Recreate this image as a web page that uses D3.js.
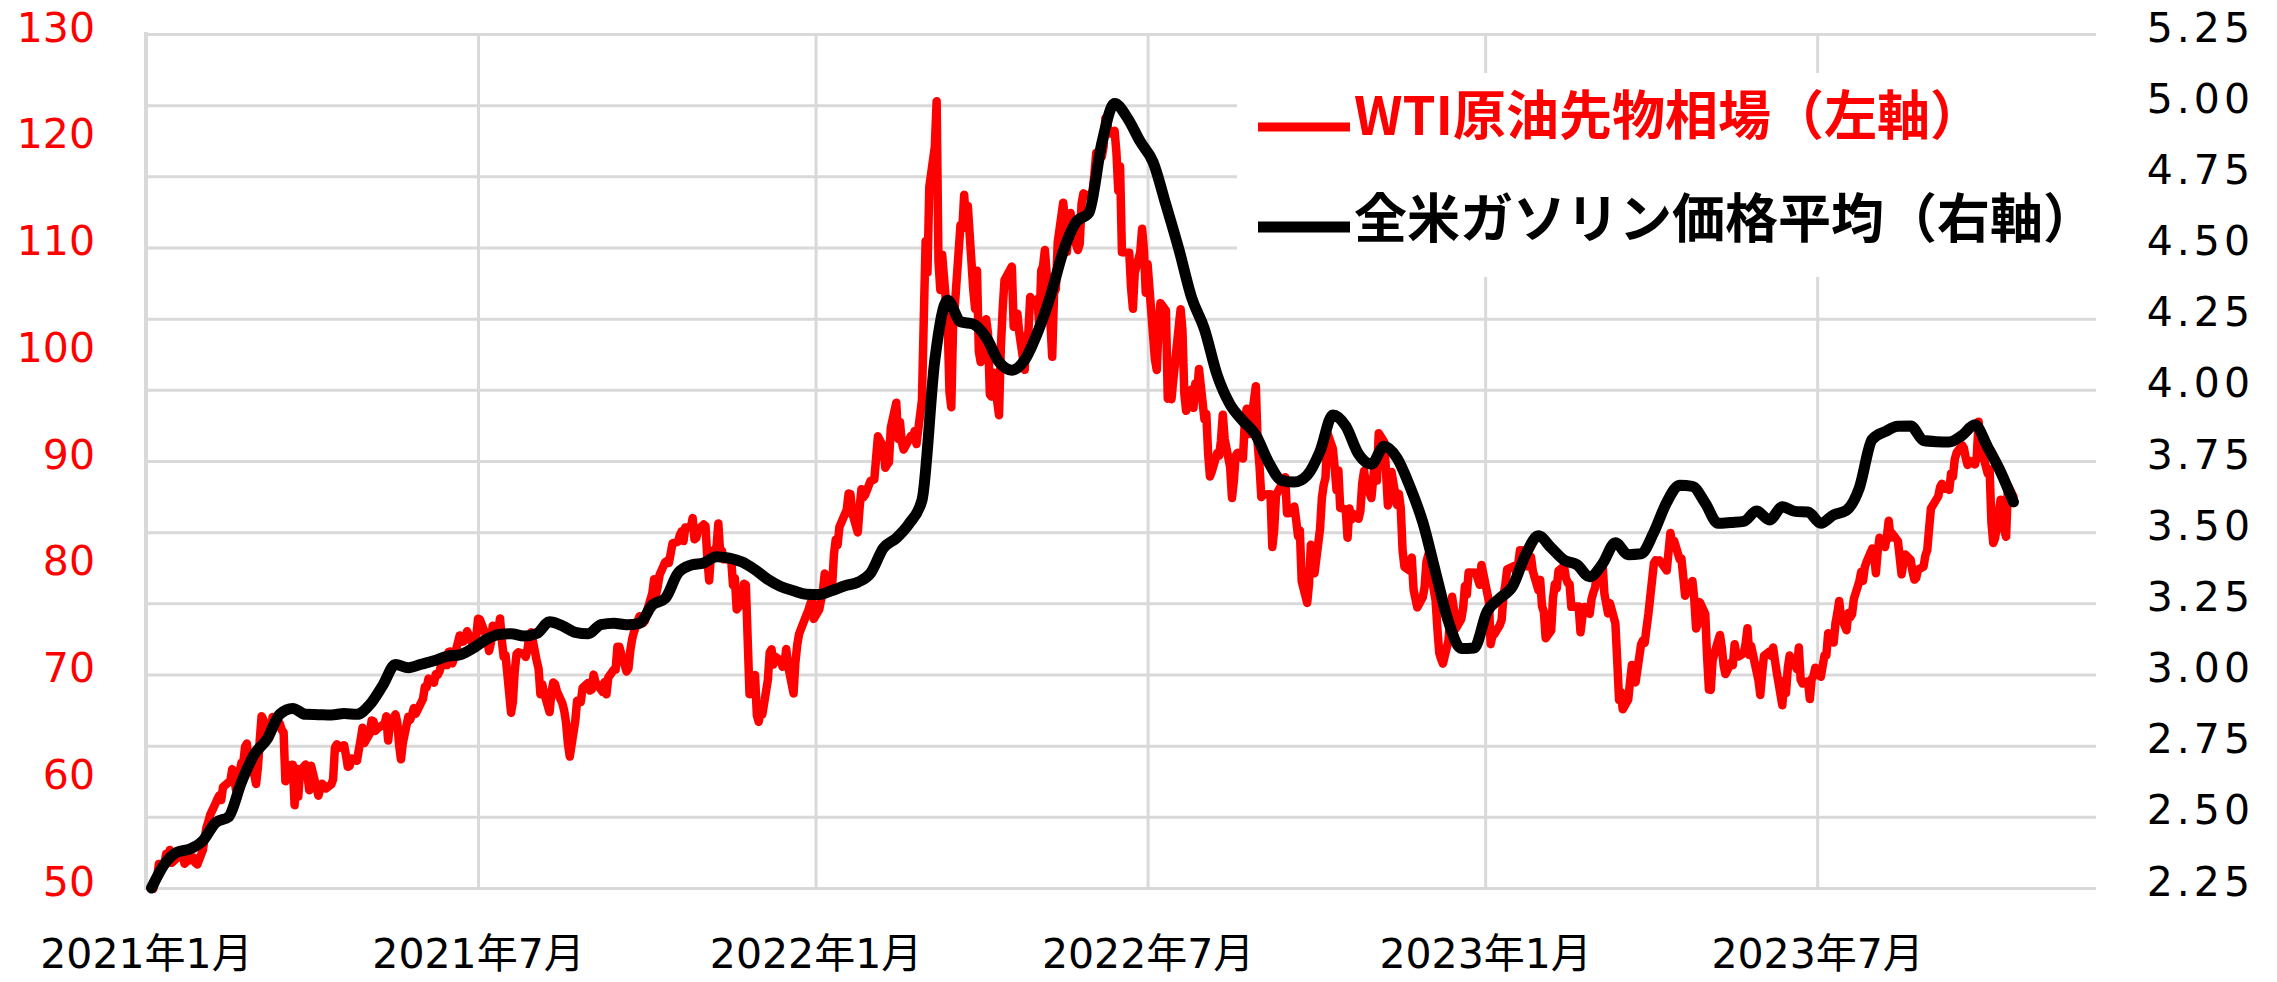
<!DOCTYPE html>
<html>
<head>
<meta charset="utf-8">
<script src="https://cdn.jsdelivr.net/npm/d3@7"></script>
<style>
html,body{margin:0;padding:0;background:#fff;}
svg{display:block;}
</style>
</head>
<body>
<script>
// ---------------- DATA ----------------
const xTickDates = ["2021-01-01","2021-07-01","2022-01-01","2022-07-01","2023-01-01","2023-07-01"];
const xTickLabels = ["2021年1月","2021年7月","2022年1月","2022年7月","2023年1月","2023年7月"];
const leftTicks = [50,60,70,80,90,100,110,120,130];
const rightTicks = [2.25,2.5,2.75,3.0,3.25,3.5,3.75,4.0,4.25,4.5,4.75,5.0,5.25];
const seriesNames = ["WTI原油先物相場（左軸）","全米ガソリン価格平均（右軸）"];

// WTI crude futures (USD/bbl), [date, value]
const wti2021 = [
["2021-01-05",49.93],["2021-01-06",50.63],["2021-01-07",50.83],["2021-01-08",52.24],["2021-01-11",52.25],["2021-01-12",53.21],["2021-01-13",52.91],["2021-01-14",53.57],["2021-01-15",52.36],["2021-01-19",52.98],["2021-01-20",53.31],["2021-01-21",53.13],["2021-01-22",52.27],["2021-01-25",52.77],["2021-01-26",52.61],["2021-01-27",52.85],["2021-01-28",52.34],["2021-01-29",52.20],
["2021-02-01",53.55],["2021-02-02",54.76],["2021-02-03",55.69],["2021-02-04",56.23],["2021-02-05",56.85],["2021-02-08",57.97],["2021-02-09",58.36],["2021-02-10",58.68],["2021-02-11",58.24],["2021-02-12",59.47],["2021-02-16",60.05],["2021-02-17",61.14],["2021-02-18",60.52],["2021-02-19",59.24],["2021-02-22",61.70],["2021-02-23",61.67],["2021-02-24",63.22],["2021-02-25",63.53],["2021-02-26",61.50],
["2021-03-01",60.64],["2021-03-02",59.75],["2021-03-03",61.28],["2021-03-04",63.83],["2021-03-05",66.09],["2021-03-08",65.05],["2021-03-09",64.01],["2021-03-10",64.44],["2021-03-11",66.02],["2021-03-12",65.61],["2021-03-15",65.39],["2021-03-16",64.80],["2021-03-17",64.60],["2021-03-18",60.00],["2021-03-19",61.42],["2021-03-22",61.55],["2021-03-23",57.76],["2021-03-24",61.18],["2021-03-25",58.56],["2021-03-26",60.97],["2021-03-29",61.56],["2021-03-30",60.55],["2021-03-31",59.16],
["2021-04-01",61.45],["2021-04-05",58.65],["2021-04-06",59.33],["2021-04-07",59.77],["2021-04-08",59.60],["2021-04-09",59.32],["2021-04-12",59.70],["2021-04-13",60.18],["2021-04-14",63.15],["2021-04-15",63.46],["2021-04-16",63.13],["2021-04-19",63.38],["2021-04-20",62.44],["2021-04-21",61.35],["2021-04-22",61.43],["2021-04-23",62.14],["2021-04-26",61.91],["2021-04-27",62.94],["2021-04-28",63.86],["2021-04-29",65.01],["2021-04-30",63.58],
["2021-05-03",64.49],["2021-05-04",65.69],["2021-05-05",65.63],["2021-05-06",64.71],["2021-05-07",64.90],["2021-05-10",65.28],["2021-05-11",65.28],["2021-05-12",66.08],["2021-05-13",63.82],["2021-05-14",65.37],["2021-05-17",66.27],["2021-05-18",65.49],["2021-05-19",63.36],["2021-05-20",62.05],["2021-05-21",63.58],["2021-05-24",66.05],["2021-05-25",65.76],["2021-05-26",66.21],["2021-05-27",66.85],["2021-05-28",66.32],
["2021-06-01",67.72],["2021-06-02",68.83],["2021-06-03",68.81],["2021-06-04",69.62],["2021-06-07",69.23],["2021-06-08",70.05],["2021-06-09",69.96],["2021-06-10",70.29],["2021-06-11",70.91],["2021-06-14",70.88],["2021-06-15",72.12],["2021-06-16",72.15],["2021-06-17",71.04],["2021-06-18",71.64],["2021-06-21",73.66],["2021-06-22",73.06],["2021-06-23",73.08],["2021-06-24",73.30],["2021-06-25",74.05],["2021-06-28",72.91],["2021-06-29",72.98],["2021-06-30",73.47],
["2021-07-01",75.23],["2021-07-02",75.16],["2021-07-06",73.37],["2021-07-07",72.20],["2021-07-08",72.94],["2021-07-09",74.56],["2021-07-12",74.10],["2021-07-13",75.25],["2021-07-14",73.13],["2021-07-15",71.65],["2021-07-16",71.81],["2021-07-19",66.42],["2021-07-20",67.42],["2021-07-21",70.30],["2021-07-22",71.91],["2021-07-23",72.07],["2021-07-26",71.91],["2021-07-27",71.65],["2021-07-28",72.39],["2021-07-29",73.62],["2021-07-30",73.95],
["2021-08-02",71.26],["2021-08-03",70.56],["2021-08-04",68.15],["2021-08-05",69.09],["2021-08-06",68.28],["2021-08-09",66.48],["2021-08-10",68.29],["2021-08-11",69.25],["2021-08-12",69.09],["2021-08-13",68.44],["2021-08-16",67.29],["2021-08-17",66.59],["2021-08-18",65.46],["2021-08-19",63.50],["2021-08-20",62.32],["2021-08-23",65.64],["2021-08-24",67.54],["2021-08-25",67.42],["2021-08-26",67.42],["2021-08-27",68.74],["2021-08-30",69.21],["2021-08-31",68.50],
["2021-09-01",68.59],["2021-09-02",69.99],["2021-09-03",69.29],["2021-09-07",68.35],["2021-09-08",69.30],["2021-09-09",68.14],["2021-09-10",69.72],["2021-09-13",70.45],["2021-09-14",70.46],["2021-09-15",72.61],["2021-09-16",72.61],["2021-09-17",71.97],["2021-09-20",70.29],["2021-09-21",70.56],["2021-09-22",72.23],["2021-09-23",73.30],["2021-09-24",73.98],["2021-09-27",75.45],["2021-09-28",75.29],["2021-09-29",74.83],["2021-09-30",75.03],
["2021-10-01",75.88],["2021-10-04",77.62],["2021-10-05",78.93],["2021-10-06",77.43],["2021-10-07",78.30],["2021-10-08",79.35],["2021-10-11",80.52],["2021-10-12",80.64],["2021-10-13",80.44],["2021-10-14",81.31],["2021-10-15",82.28],["2021-10-18",82.44],["2021-10-19",83.06],["2021-10-20",83.42],["2021-10-21",82.50],["2021-10-22",83.76],["2021-10-25",83.76],["2021-10-26",84.65],["2021-10-27",82.66],["2021-10-28",82.81],["2021-10-29",83.57],
["2021-11-01",84.05],["2021-11-02",83.91],["2021-11-03",80.86],["2021-11-04",78.81],["2021-11-05",81.27],["2021-11-08",81.93],["2021-11-09",84.15],["2021-11-10",81.34],["2021-11-11",81.59],["2021-11-12",80.79],["2021-11-15",80.88],["2021-11-16",80.76],["2021-11-17",78.36],["2021-11-18",79.01],["2021-11-19",76.10],["2021-11-22",76.75],["2021-11-23",78.50],["2021-11-24",78.39],["2021-11-26",68.15],["2021-11-29",69.95],["2021-11-30",66.18],
["2021-12-01",65.57],["2021-12-02",66.50],["2021-12-03",66.26],["2021-12-06",69.49],["2021-12-07",72.05],["2021-12-08",72.36],["2021-12-09",70.94],["2021-12-10",71.67],["2021-12-13",71.29],["2021-12-14",70.73],["2021-12-15",70.87],["2021-12-16",72.38],["2021-12-17",70.86],["2021-12-20",68.23],["2021-12-21",71.12],["2021-12-22",72.76],["2021-12-23",73.79],["2021-12-27",75.57],["2021-12-28",75.98],["2021-12-29",76.56],["2021-12-30",76.99],["2021-12-31",75.21]
];
const wti2022 = [
["2022-01-03",76.08],["2022-01-04",76.99],["2022-01-05",77.85],["2022-01-06",79.46],["2022-01-07",78.90],["2022-01-10",78.23],["2022-01-11",81.22],["2022-01-12",82.64],["2022-01-13",82.12],["2022-01-14",83.82],["2022-01-18",85.43],["2022-01-19",86.96],["2022-01-20",86.90],["2022-01-21",85.14],["2022-01-24",83.31],["2022-01-25",85.60],["2022-01-26",87.35],["2022-01-27",86.61],["2022-01-28",86.82],["2022-01-31",88.15],
["2022-02-01",88.20],["2022-02-02",88.26],["2022-02-03",90.27],["2022-02-04",92.31],["2022-02-07",91.32],["2022-02-08",89.36],["2022-02-09",89.66],["2022-02-10",89.88],["2022-02-11",93.10],["2022-02-14",95.46],["2022-02-15",92.07],["2022-02-16",93.66],["2022-02-17",91.76],["2022-02-18",91.07],["2022-02-22",92.35],["2022-02-23",92.10],["2022-02-24",92.81],["2022-02-25",91.59],["2022-02-28",95.72],
["2022-03-01",103.41],["2022-03-02",110.60],["2022-03-03",107.67],["2022-03-04",115.68],["2022-03-07",119.40],["2022-03-08",123.70],["2022-03-09",108.70],["2022-03-10",106.02],["2022-03-11",109.33],["2022-03-14",103.01],["2022-03-15",96.44],["2022-03-16",95.04],["2022-03-17",102.98],["2022-03-18",104.70],["2022-03-21",112.12],["2022-03-22",111.76],["2022-03-23",114.93],["2022-03-24",112.34],["2022-03-25",113.90],["2022-03-28",105.96],["2022-03-29",104.24],["2022-03-30",107.82],["2022-03-31",100.28],
["2022-04-01",99.27],["2022-04-04",103.28],["2022-04-05",101.96],["2022-04-06",96.23],["2022-04-07",96.03],["2022-04-08",98.26],["2022-04-11",94.29],["2022-04-12",100.60],["2022-04-13",104.25],["2022-04-14",106.95],["2022-04-18",108.21],["2022-04-19",102.56],["2022-04-20",102.75],["2022-04-21",103.79],["2022-04-22",102.07],["2022-04-25",98.54],["2022-04-26",101.70],["2022-04-27",102.02],["2022-04-28",105.36],["2022-04-29",104.69],
["2022-05-02",105.17],["2022-05-03",102.41],["2022-05-04",107.81],["2022-05-05",108.26],["2022-05-06",109.77],["2022-05-09",103.09],["2022-05-10",99.76],["2022-05-11",105.71],["2022-05-12",106.13],["2022-05-13",110.49],["2022-05-16",114.20],["2022-05-17",112.40],["2022-05-18",109.59],["2022-05-19",112.21],["2022-05-20",113.23],["2022-05-23",110.29],["2022-05-24",109.77],["2022-05-25",110.33],["2022-05-26",114.09],["2022-05-27",115.07],["2022-05-31",114.67],
["2022-06-01",115.26],["2022-06-02",116.87],["2022-06-03",118.87],["2022-06-06",118.50],["2022-06-07",119.41],["2022-06-08",122.11],["2022-06-09",121.51],["2022-06-10",120.67],["2022-06-13",120.93],["2022-06-14",118.93],["2022-06-15",115.31],["2022-06-16",117.59],["2022-06-17",109.56],["2022-06-21",109.52],["2022-06-22",106.19],["2022-06-23",104.27],["2022-06-24",107.62],["2022-06-27",109.57],["2022-06-28",111.76],["2022-06-29",109.78],["2022-06-30",105.76],
["2022-07-01",108.43],["2022-07-05",99.50],["2022-07-06",98.53],["2022-07-07",102.73],["2022-07-08",104.79],["2022-07-11",104.09],["2022-07-12",95.84],["2022-07-13",96.30],["2022-07-14",95.78],["2022-07-15",97.59],["2022-07-18",102.60],["2022-07-19",104.22],["2022-07-20",102.26],["2022-07-21",96.35],["2022-07-22",94.70],["2022-07-25",96.70],["2022-07-26",94.98],["2022-07-27",97.26],["2022-07-28",96.42],["2022-07-29",98.62],
["2022-08-01",93.89],["2022-08-02",94.42],["2022-08-03",90.66],["2022-08-04",88.54],["2022-08-05",89.01],["2022-08-08",90.76],["2022-08-09",90.50],["2022-08-10",91.93],["2022-08-11",94.34],["2022-08-12",92.09],["2022-08-15",89.41],["2022-08-16",86.53],["2022-08-17",88.11],["2022-08-18",90.50],["2022-08-19",90.77],["2022-08-22",90.23],["2022-08-23",93.74],["2022-08-24",94.89],["2022-08-25",92.52],["2022-08-26",93.06],["2022-08-29",97.01],["2022-08-30",91.64],["2022-08-31",89.55],
["2022-09-01",86.61],["2022-09-02",86.87],["2022-09-06",86.88],["2022-09-07",81.94],["2022-09-08",83.54],["2022-09-09",86.79],["2022-09-12",87.78],["2022-09-13",87.31],["2022-09-14",88.48],["2022-09-15",85.10],["2022-09-16",85.11],["2022-09-19",85.73],["2022-09-20",84.45],["2022-09-21",82.94],["2022-09-22",83.49],["2022-09-23",78.74],["2022-09-26",76.71],["2022-09-27",78.50],["2022-09-28",82.15],["2022-09-29",81.23],["2022-09-30",79.49],
["2022-10-03",83.63],["2022-10-04",86.52],["2022-10-05",87.76],["2022-10-06",88.45],["2022-10-07",92.64],["2022-10-10",91.13],["2022-10-11",89.35],["2022-10-12",87.27],["2022-10-13",89.11],["2022-10-14",85.61],["2022-10-17",85.46],["2022-10-18",82.82],["2022-10-19",85.55],["2022-10-20",84.51],["2022-10-21",85.05],["2022-10-24",84.58],["2022-10-25",85.32],["2022-10-26",87.91],["2022-10-27",89.08],["2022-10-28",87.90],["2022-10-31",86.53],
["2022-11-01",88.37],["2022-11-02",90.00],["2022-11-03",88.17],["2022-11-04",92.61],["2022-11-07",91.79],["2022-11-08",88.91],["2022-11-09",85.83],["2022-11-10",86.47],["2022-11-11",88.96],["2022-11-14",85.87],["2022-11-15",86.92],["2022-11-16",85.59],["2022-11-17",81.64],["2022-11-18",80.08],["2022-11-21",79.73],["2022-11-22",80.95],["2022-11-23",77.94],["2022-11-25",76.28],["2022-11-28",77.24],["2022-11-29",78.20],["2022-11-30",80.55],
["2022-12-01",81.22],["2022-12-02",79.98],["2022-12-05",76.93],["2022-12-06",74.25],["2022-12-07",72.01],["2022-12-08",71.46],["2022-12-09",71.02],["2022-12-12",73.17],["2022-12-13",75.39],["2022-12-14",77.28],["2022-12-15",76.11],["2022-12-16",74.29],["2022-12-19",75.19],["2022-12-20",76.23],["2022-12-21",78.29],["2022-12-22",77.49],["2022-12-23",79.56],["2022-12-27",79.53],["2022-12-28",78.96],["2022-12-29",78.40],["2022-12-30",80.26]
];
const wti2023 = [
["2023-01-03",76.93],["2023-01-04",72.84],["2023-01-05",73.67],["2023-01-06",73.77],["2023-01-09",74.63],["2023-01-10",75.12],["2023-01-11",77.41],["2023-01-12",78.39],["2023-01-13",79.86],["2023-01-17",80.18],["2023-01-18",79.48],["2023-01-19",80.33],["2023-01-20",81.64],["2023-01-23",81.62],["2023-01-24",80.13],["2023-01-25",80.15],["2023-01-26",81.01],["2023-01-27",79.68],["2023-01-30",77.90],["2023-01-31",78.87],
["2023-02-01",76.41],["2023-02-02",75.88],["2023-02-03",73.39],["2023-02-06",74.11],["2023-02-07",77.14],["2023-02-08",78.47],["2023-02-09",78.06],["2023-02-10",79.72],["2023-02-13",80.14],["2023-02-14",79.06],["2023-02-15",78.59],["2023-02-16",78.49],["2023-02-17",76.34],["2023-02-21",76.36],["2023-02-22",73.95],["2023-02-23",75.39],["2023-02-24",76.32],["2023-02-27",75.68],["2023-02-28",77.05],
["2023-03-01",77.69],["2023-03-02",78.16],["2023-03-03",79.68],["2023-03-06",80.46],["2023-03-07",77.58],["2023-03-08",76.66],["2023-03-09",75.72],["2023-03-10",76.68],["2023-03-13",74.80],["2023-03-14",71.33],["2023-03-15",67.61],["2023-03-16",68.35],["2023-03-17",66.74],["2023-03-20",67.64],["2023-03-21",69.33],["2023-03-22",70.90],["2023-03-23",69.96],["2023-03-24",69.26],["2023-03-27",72.81],["2023-03-28",73.20],["2023-03-29",72.97],["2023-03-30",74.37],["2023-03-31",75.67],
["2023-04-03",80.42],["2023-04-04",80.71],["2023-04-05",80.61],["2023-04-06",80.70],["2023-04-10",79.74],["2023-04-11",81.53],["2023-04-12",83.26],["2023-04-13",82.16],["2023-04-14",82.52],["2023-04-17",80.83],["2023-04-18",80.86],["2023-04-19",79.16],["2023-04-20",77.37],["2023-04-21",77.87],["2023-04-24",78.76],["2023-04-25",77.07],["2023-04-26",74.30],["2023-04-27",74.76],["2023-04-28",76.78],
["2023-05-01",75.66],["2023-05-02",71.66],["2023-05-03",68.60],["2023-05-04",68.56],["2023-05-05",71.34],["2023-05-08",73.16],["2023-05-09",73.71],["2023-05-10",72.56],["2023-05-11",70.87],["2023-05-12",70.04],["2023-05-15",71.11],["2023-05-16",70.86],["2023-05-17",72.83],["2023-05-18",71.86],["2023-05-19",71.69],["2023-05-22",71.99],["2023-05-23",72.91],["2023-05-24",74.34],["2023-05-25",71.83],["2023-05-26",72.67],["2023-05-30",69.46],["2023-05-31",68.09],
["2023-06-01",70.10],["2023-06-02",71.74],["2023-06-05",72.15],["2023-06-06",71.74],["2023-06-07",72.53],["2023-06-08",71.29],["2023-06-09",70.17],["2023-06-12",67.12],["2023-06-13",69.42],["2023-06-14",68.27],["2023-06-15",70.62],["2023-06-16",71.78],["2023-06-20",70.50],["2023-06-21",72.53],["2023-06-22",69.51],["2023-06-23",69.16],["2023-06-26",69.37],["2023-06-27",67.70],["2023-06-28",69.56],["2023-06-29",69.86],["2023-06-30",70.64],
["2023-07-03",69.79],["2023-07-05",71.79],["2023-07-06",71.80],["2023-07-07",73.86],["2023-07-10",72.99],["2023-07-11",74.83],["2023-07-12",75.75],["2023-07-13",76.89],["2023-07-14",75.42],["2023-07-17",74.15],["2023-07-18",75.75],["2023-07-19",75.35],["2023-07-20",75.63],["2023-07-21",77.07],["2023-07-24",78.74],["2023-07-25",79.63],["2023-07-26",78.78],["2023-07-27",80.09],["2023-07-28",80.58],["2023-07-31",81.80],
["2023-08-01",81.37],["2023-08-02",79.49],["2023-08-03",81.55],["2023-08-04",82.82],["2023-08-07",81.94],["2023-08-08",82.92],["2023-08-09",84.40],["2023-08-10",82.82],["2023-08-11",83.19],["2023-08-14",82.51],["2023-08-15",80.99],["2023-08-16",79.38],["2023-08-17",80.39],["2023-08-18",81.25],["2023-08-21",80.72],["2023-08-22",79.64],["2023-08-23",78.89],["2023-08-24",79.05],["2023-08-25",79.83],["2023-08-28",80.10],["2023-08-29",81.16],["2023-08-30",81.63],["2023-08-31",83.63],
["2023-09-01",85.55],["2023-09-05",86.69],["2023-09-06",87.54],["2023-09-07",87.87],["2023-09-08",87.51],["2023-09-11",87.29],["2023-09-12",88.84],["2023-09-13",88.52],["2023-09-14",90.16],["2023-09-15",90.77],["2023-09-18",91.48],["2023-09-19",91.20],["2023-09-20",90.28],["2023-09-21",89.63],["2023-09-22",90.03],["2023-09-25",89.68],["2023-09-26",90.39],["2023-09-27",93.68],["2023-09-28",91.71],["2023-09-29",90.79],
["2023-10-02",88.82],["2023-10-03",89.23],["2023-10-04",84.22],["2023-10-05",82.31],["2023-10-06",82.79],["2023-10-09",86.38],["2023-10-10",85.97],["2023-10-11",83.49],["2023-10-12",82.91],["2023-10-13",87.69],["2023-10-16",86.66]
];

// US regular gasoline average (USD/gal), weekly, [date, value]
const gas2021 = [
["2021-01-04",2.250],["2021-01-11",2.333],["2021-01-18",2.376],["2021-01-25",2.387],["2021-02-01",2.416],["2021-02-08",2.480],["2021-02-15",2.500],["2021-02-22",2.621],["2021-03-01",2.719],["2021-03-08",2.773],["2021-03-15",2.861],["2021-03-22",2.881],["2021-03-29",2.860],["2021-04-05",2.859],["2021-04-12",2.858],["2021-04-19",2.863],["2021-04-26",2.860],["2021-05-03",2.894],["2021-05-10",2.961],["2021-05-17",3.035],["2021-05-24",3.024],["2021-05-31",3.036],["2021-06-07",3.048],["2021-06-14",3.064],["2021-06-21",3.069],["2021-06-28",3.091],["2021-07-05",3.121],["2021-07-12",3.140],["2021-07-19",3.143],["2021-07-26",3.135],["2021-08-02",3.144],["2021-08-09",3.185],["2021-08-16",3.171],["2021-08-23",3.148],["2021-08-30",3.143],["2021-09-06",3.175],["2021-09-13",3.180],["2021-09-20",3.175],["2021-09-27",3.180],["2021-10-04",3.244],["2021-10-11",3.267],["2021-10-18",3.356],["2021-10-25",3.384],["2021-11-01",3.392],["2021-11-08",3.414],["2021-11-15",3.409],["2021-11-22",3.395],["2021-11-29",3.368],["2021-12-06",3.334],["2021-12-13",3.309],["2021-12-20",3.294],["2021-12-27",3.282]
];
const gas2022 = [
["2022-01-03",3.281],["2022-01-10",3.295],["2022-01-17",3.312],["2022-01-24",3.324],["2022-01-31",3.356],["2022-02-07",3.444],["2022-02-14",3.479],["2022-02-21",3.530],["2022-02-28",3.612],["2022-03-07",4.104],["2022-03-14",4.315],["2022-03-21",4.239],["2022-03-28",4.231],["2022-04-04",4.184],["2022-04-11",4.098],["2022-04-18",4.069],["2022-04-25",4.105],["2022-05-02",4.201],["2022-05-09",4.328],["2022-05-16",4.486],["2022-05-23",4.589],["2022-05-30",4.622],["2022-06-06",4.865],["2022-06-13",5.006],["2022-06-20",4.955],["2022-06-27",4.872],["2022-07-04",4.800],["2022-07-11",4.650],["2022-07-18",4.495],["2022-07-25",4.324],["2022-08-01",4.213],["2022-08-08",4.050],["2022-08-15",3.948],["2022-08-22",3.891],["2022-08-29",3.841],["2022-09-05",3.745],["2022-09-12",3.682],["2022-09-19",3.676],["2022-09-26",3.700],["2022-10-03",3.784],["2022-10-10",3.912],["2022-10-17",3.873],["2022-10-24",3.774],["2022-10-31",3.739],["2022-11-07",3.802],["2022-11-14",3.760],["2022-11-21",3.660],["2022-11-28",3.535],["2022-12-05",3.359],["2022-12-12",3.186],["2022-12-19",3.091],["2022-12-26",3.093]
];
const gas2023 = [
["2023-01-02",3.220],["2023-01-09",3.268],["2023-01-16",3.310],["2023-01-23",3.420],["2023-01-30",3.487],["2023-02-06",3.445],["2023-02-13",3.402],["2023-02-20",3.386],["2023-02-27",3.343],["2023-03-06",3.389],["2023-03-13",3.463],["2023-03-20",3.421],["2023-03-27",3.424],["2023-04-03",3.500],["2023-04-10",3.605],["2023-04-17",3.665],["2023-04-24",3.661],["2023-05-01",3.602],["2023-05-08",3.531],["2023-05-15",3.534],["2023-05-22",3.538],["2023-05-29",3.574],["2023-06-05",3.543],["2023-06-12",3.589],["2023-06-19",3.573],["2023-06-26",3.571],["2023-07-03",3.531],["2023-07-10",3.561],["2023-07-17",3.577],["2023-07-24",3.656],["2023-07-31",3.826],["2023-08-07",3.853],["2023-08-14",3.872],["2023-08-21",3.873],["2023-08-28",3.822],["2023-09-04",3.818],["2023-09-11",3.817],["2023-09-18",3.840],["2023-09-25",3.877],["2023-10-02",3.798],["2023-10-09",3.712],["2023-10-16",3.606]
];

// ---------------- CHART ----------------
const W = 2277, H = 982;
const plot = {left:146, right:2096, top:34, bottom:888};
const parse = d3.timeParse("%Y-%m-%d");
const toPts = arr => arr.map(d => ({date: parse(d[0]), value: d[1]}));
const wti = toPts([...wti2021, ...wti2022, ...wti2023]);
const gas = toPts([...gas2021, ...gas2022, ...gas2023]);

const svg = d3.select("body").append("svg").attr("width", W).attr("height", H);

const x = d3.scaleTime().domain([parse("2021-01-01"), parse("2023-11-30")]).range([plot.left, plot.right]);
const yL = d3.scaleLinear().domain([50,130]).range([plot.bottom, plot.top]);
const yR = d3.scaleLinear().domain([2.25,5.25]).range([plot.bottom, plot.top]);

const GRID = "#d9d9d9";
const numFont = "'DejaVu Sans', 'Noto Sans CJK JP', sans-serif";

// horizontal gridlines (right axis ticks)
const hg = svg.append("g").attr("transform", `translate(${plot.left},0)`)
  .call(d3.axisRight(yR).tickValues(rightTicks).tickSize(plot.right - plot.left).tickFormat(""));
hg.select(".domain").remove();
hg.selectAll("line").attr("stroke", GRID).attr("stroke-width", 3);

// vertical gridlines
const xTicks = xTickDates.map(parse);
const vg = svg.append("g").attr("transform", `translate(0,${plot.bottom})`)
  .call(d3.axisTop(x).tickValues(xTicks.slice(1)).tickSize(plot.bottom - plot.top).tickFormat(""));
vg.select(".domain").remove();
vg.selectAll("line").attr("stroke", GRID).attr("stroke-width", 3);

// left axis line
svg.append("line").attr("x1", plot.left).attr("x2", plot.left)
  .attr("y1", plot.top - 2).attr("y2", plot.bottom + 2)
  .attr("stroke", GRID).attr("stroke-width", 4);

// left labels
const la = svg.append("g").attr("transform", `translate(95,0)`)
  .call(d3.axisLeft(yL).tickValues(leftTicks).tickSize(0).tickFormat(d3.format("d")));
la.select(".domain").remove();
la.selectAll("text").attr("x", 0).attr("dy", null).attr("y", 7)
  .attr("fill", "#ff0000").attr("font-family", numFont).attr("font-size", 41).attr("text-anchor", "end");

// right labels
const ra = svg.append("g").attr("transform", `translate(2254,0)`)
  .call(d3.axisRight(yR).tickValues(rightTicks).tickSize(0).tickFormat(d3.format(".2f")));
ra.select(".domain").remove();
ra.selectAll("text").attr("x", 0).attr("dy", null).attr("y", 7)
  .attr("fill", "#000").attr("font-family", numFont).attr("font-size", 41)
  .attr("letter-spacing", 4).attr("text-anchor", "end");

// bottom labels
const ba = svg.append("g").attr("transform", `translate(0,0)`)
  .call(d3.axisBottom(x).tickValues(xTicks).tickSize(0).tickFormat((d,i) => xTickLabels[i]));
ba.select(".domain").remove();
ba.selectAll("text").attr("y", 968).attr("dy", null)
  .attr("fill", "#000").attr("font-family", numFont).attr("font-size", 41).attr("text-anchor", "middle");

// legend background
const lg = {x: 1237, y: 73, w: 2100 - 1237, h: 204};
svg.append("rect").attr("x", lg.x).attr("y", lg.y).attr("width", lg.w).attr("height", lg.h).attr("fill", "#fff");

// lines
const lineL = d3.line().x(d => x(d.date)).y(d => yL(d.value));
const lineR = d3.line().x(d => x(d.date)).y(d => yR(d.value));
svg.append("path").datum(wti).attr("d", lineL).attr("fill", "none")
  .attr("stroke", "#ff0000").attr("stroke-width", 8.5).attr("stroke-linejoin", "round").attr("stroke-linecap", "round");
svg.append("path").datum(gas).attr("d", d3.line().curve(d3.curveMonotoneX).x(d => x(d.date)).y(d => yR(d.value))).attr("fill", "none")
  .attr("stroke", "#000").attr("stroke-width", 11).attr("stroke-linejoin", "round").attr("stroke-linecap", "round");

// legend
const legendItems = [
  {name: seriesNames[0], color: "#ff0000", width: 9, ly: 127, ty: 135},
  {name: seriesNames[1], color: "#000000", width: 11, ly: 227, ty: 238}
];
const li = svg.append("g").selectAll("g").data(legendItems).join("g");
li.append("line").attr("x1", 1258).attr("x2", 1350).attr("y1", d => d.ly).attr("y2", d => d.ly)
  .attr("stroke", d => d.color).attr("stroke-width", d => d.width);
li.append("text").attr("x", 1354).attr("y", d => d.ty).text(d => d.name)
  .attr("fill", d => d.color).attr("font-family", "'Noto Sans CJK JP', sans-serif")
  .attr("font-weight", 700).attr("font-size", 53);
</script>
</body>
</html>
